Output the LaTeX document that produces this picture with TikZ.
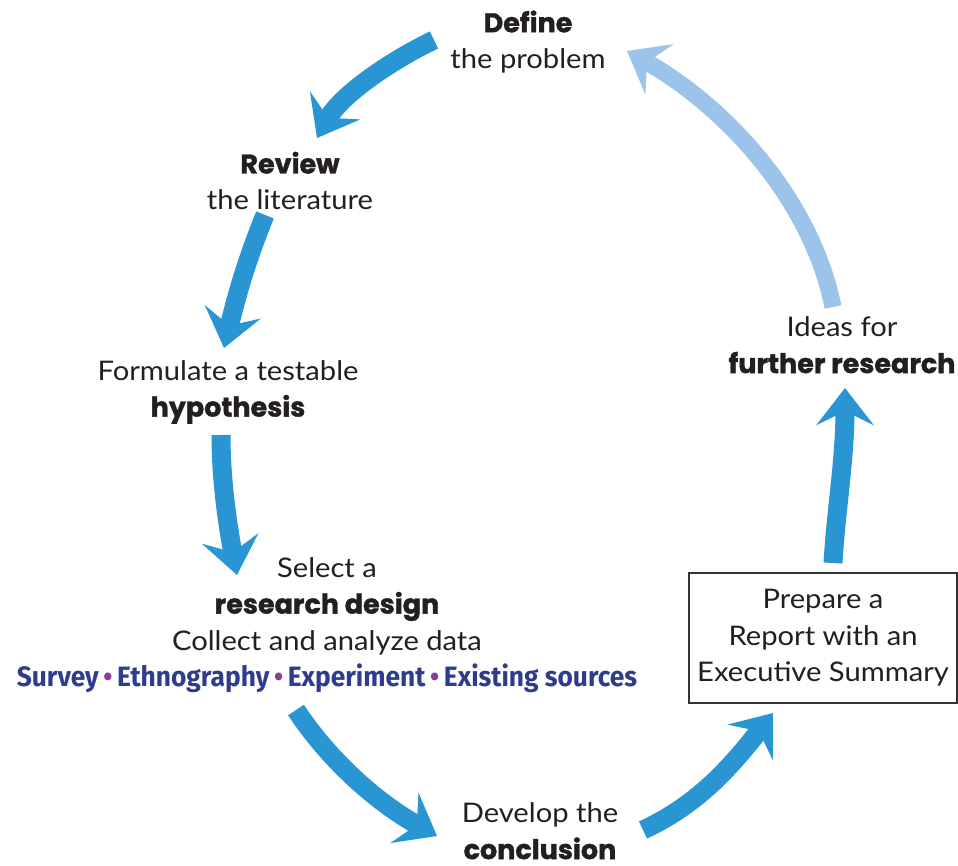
\documentclass[tikz,border=0pt]{standalone}
\usepackage{fontspec}
\usetikzlibrary{arrows.meta}
\setmainfont{Lato}[FakeStretch=1.08]
\newfontfamily\heavy{Poppins}[BoldFeatures={FakeBold=1.3}]
\newfontfamily\cond{Fira Sans}[FakeStretch=0.94]
\definecolor{arrowblue}{HTML}{2A95D3}
\definecolor{lightblue}{HTML}{9CC3E9}
\definecolor{txt}{HTML}{231F20}
\definecolor{navy}{HTML}{2E3C8E}
\definecolor{bulletc}{HTML}{8C3B96}
\definecolor{boxgray}{HTML}{333333}
\begin{document}
\begin{tikzpicture}[x=1pt,y=-1pt,
  lbl/.style={font=\fontsize{27}{36.5}\selectfont, text=txt, align=center, inner sep=0pt},
  flow/.style={line width=19pt, draw=arrowblue, -{Stealth[length=37pt,width=57pt,inset=14pt]}},
  backflow/.style={flow, draw=lightblue, line width=17pt}]
\useasboundingbox (0,0) rectangle (958,866);
\fill[white] (0,0) rectangle (958,866);

\newcommand{\hv}[1]{{\heavy\bfseries #1}}
\newcommand{\dotb}{\textcolor{bulletc}{\,\textbullet\,}}

\node[lbl] (define) at (528,42) {\hv{Define}\\the problem};
\node[lbl] (review) at (290,181) {\hv{Review}\\the literature};
\node[lbl] (hyp) at (228,392) {Formulate a testable\\\hv{hypothesis}};
\node[lbl] (design) at (327,625) {Select a\\\hv{research design}\\Collect and analyze data\\{\fontsize{28}{36.5}\cond\bfseries\color{navy}Survey\dotb Ethnography\dotb Experiment\dotb Existing sources}};
\node[lbl] (concl) at (540,831) {Develop the\\\hv{conclusion}};
\node[lbl, draw=boxgray, line width=1.5pt, minimum width=268pt, minimum height=130pt] (report) at (823,638) {Prepare a\\Report with an\\Executive Summary};
\node[lbl] (ideas) at (842,345) {Ideas for\\\hv{further research}};

\coordinate (a1s) at (434,40);  \coordinate (a1e) at (317,138);
\coordinate (a2s) at (265,215); \coordinate (a2e) at (224,348);
\coordinate (a3s) at (221,435); \coordinate (a3e) at (237,575);
\coordinate (a4s) at (296,710); \coordinate (a4e) at (437,836);
\coordinate (a5s) at (643,830); \coordinate (a5e) at (773,713);
\coordinate (a6s) at (833,563); \coordinate (a6e) at (845,388);
\coordinate (a7s) at (833,307); \coordinate (a7e) at (627,51);

\draw[flow] (a1s) .. controls +(-38,18) and +(25,-45) .. (a1e);
\draw[flow] (a2s) .. controls +(-17,42) and +(14,-58) .. (a2e);
\draw[flow] (a3s) .. controls +(0,40) and +(-11,-59) .. (a3e);
\draw[flow] (a4s) .. controls +(33,50) and +(-61,-34) .. (a4e);
\draw[flow] (a5s) .. controls +(54,-25) and +(-43,55) .. (a5e);
\draw[flow] (a6s) .. controls +(3,-53) and +(0,72) .. (a6e);
\draw[backflow] (a7s) .. controls +(-22,-110) and +(96,54) .. (a7e);
\end{tikzpicture}
\end{document}
